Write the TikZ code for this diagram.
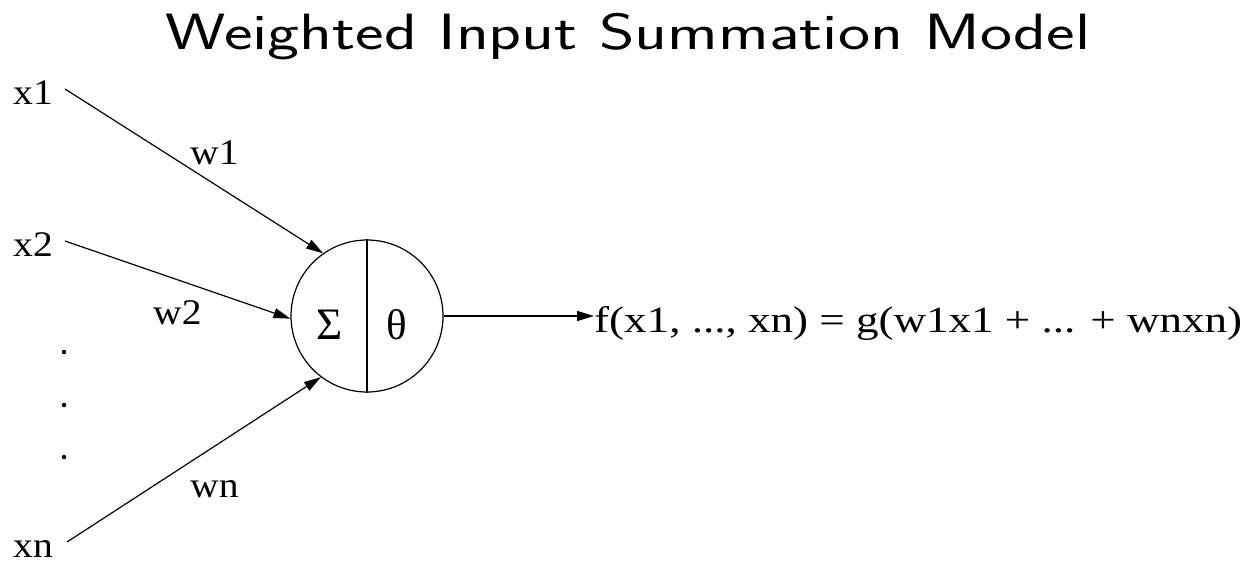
\documentclass[tikz,border=0pt]{standalone}
\usepackage{fontspec}
\setmainfont{Liberation Serif}
\usetikzlibrary{arrows.meta}
\newcommand{\stretchtext}[1]{\scalebox{1.1}[1]{#1}}
\begin{document}
\begin{tikzpicture}[x=1pt,y=-1pt,
  lab/.style={inner sep=0pt,anchor=base west,font=\fontsize{36}{40}\selectfont},
  edge/.style={line width=1.2pt,-{Triangle[length=17pt,width=10pt]}},
  dotmark/.style={circle,fill=black,inner sep=0pt,minimum size=4.5pt}]
\useasboundingbox (0,0) rectangle (1254,563);
% title
\node[inner sep=0pt,anchor=base] (title) at (628,49)
  {\resizebox{925pt}{\height}{\sffamily\fontsize{51}{54}\selectfont Weighted Input Summation Model}};
% input labels
\node[lab] (x1) at (13,104) {\stretchtext{x1}};
\node[lab] (x2) at (13,256) {\stretchtext{x2}};
\node[lab] (xn) at (13,557) {\stretchtext{xn}};
% weights
\node[lab] (w1) at (190,164) {\stretchtext{w1}};
\node[lab] (w2) at (153,324) {\stretchtext{w2}};
\node[lab] (wn) at (190,497) {\stretchtext{wn}};
% dots
\node[dotmark] (d1) at (64,352) {};
\node[dotmark] (d2) at (64,405) {};
\node[dotmark] (d3) at (64,457) {};
% neuron
\node[circle,draw,line width=1.2pt,minimum size=152pt,inner sep=0pt] (n) at (367,316) {};
\draw[line width=1.2pt] (n.north) -- (n.south);
\node[inner sep=0pt,anchor=base] (sig) at (330,339) {\fontsize{45}{48}\selectfont Σ};
\node[inner sep=0pt,anchor=base] (th) at (397,339) {\fontsize{43}{46}\selectfont θ};
% connector start points
\coordinate (s1) at (65,89);
\coordinate (s2) at (65,241);
\coordinate (sn) at (67,542);
\draw[edge] (s1) -- (n.{180-54.5});
\draw[edge] (s2) -- (n.{180+2});
\draw[edge] (sn) -- (n.{180+53.5});
% output
\node[inner sep=0pt,anchor=base west,font=\fontsize{37}{40}\selectfont] (out) at (594,332)
  {\resizebox{648pt}{\height}{f(x1, ..., xn) = g(w1x1 + ... + wnxn)}};
\draw[edge,line width=1.4pt] (n.east) -- (out.west |- n.east);
\end{tikzpicture}
\end{document}
